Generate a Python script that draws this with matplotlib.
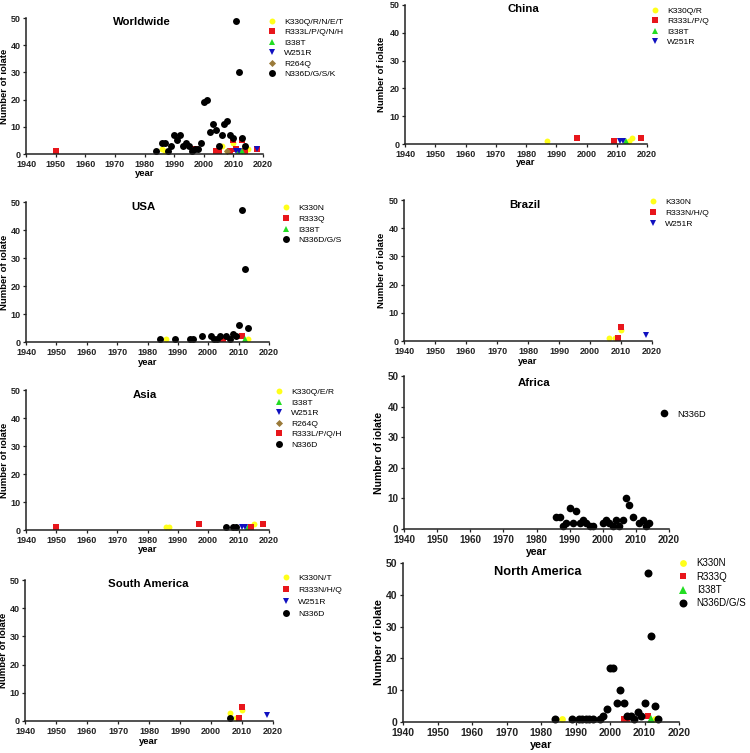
import matplotlib
matplotlib.use("Agg")
import matplotlib.pyplot as plt

plt.rcParams['font.family'] = ['Liberation Sans', 'DejaVu Sans']

# ---- data (year, number of isolates) ----
# Worldwide
ww_k330_x = [1986, 1987, 2006, 2008, 2010, 2013, 2014, 2015]
ww_k330_y = [2, 1, 3, 1, 4, 1, 1, 2]
ww_r333_x = [1950, 1997, 2004, 2005, 2009, 2010, 2011, 2013, 2014, 2018]
ww_r333_y = [1, 2, 1, 1, 1, 5, 2, 5, 1, 2]
ww_i338_x = [2012, 2013]
ww_i338_y = [1, 1]
ww_w251_x = [2011, 2012, 2018]
ww_w251_y = [1, 1, 2]
ww_r264_x = [2008]
ww_r264_y = [1]
ww_n336_x = [1984, 1986, 1987, 1988, 1989, 1990, 1991, 1992, 1993, 1994, 1995, 1996, 1997,
             1998, 1999, 2000, 2001, 2002, 2003, 2004, 2005, 2006, 2007, 2008, 2009, 2010,
             2011, 2012, 2013, 2014]
ww_n336_y = [1, 4, 4, 1, 3, 7, 5, 7, 3, 4, 3, 1, 2,
             2, 4, 19, 20, 8, 11, 9, 3, 7, 11, 12, 7, 6,
             49, 30, 6, 3]

# China
cn_k330_x = [1987, 2014, 2015]
cn_k330_y = [1, 1, 2]
cn_r333_x = [1997, 2009, 2018]
cn_r333_y = [2, 1, 2]
cn_i338_x = [2013]
cn_i338_y = [1]
cn_w251_x = [2011, 2012]
cn_w251_y = [1, 1]

# USA
us_k330_x = [1986, 2013]
us_k330_y = [1, 1]
us_r333_x = [2005, 2011]
us_r333_y = [1, 2]
us_i338_x = [2012]
us_i338_y = [1]
us_n336_x = [1984, 1989, 1994, 1995, 1998, 2001, 2002, 2003, 2004, 2006, 2007, 2008, 2009,
             2010, 2011, 2012, 2013]
us_n336_y = [1, 1, 1, 1, 2, 2, 1, 1, 2, 2, 1, 3, 2,
             6, 47, 26, 5]

# Brazil
br_k330_x = [2006, 2008, 2010]
br_k330_y = [1, 1, 4]
br_r333_x = [2009, 2010]
br_r333_y = [1, 5]
br_w251_x = [2018]
br_w251_y = [2]

# Asia
as_k330_x = [1986, 1987, 2015]
as_k330_y = [1, 1, 2]
as_i338_x = [2013]
as_i338_y = [1]
as_w251_x = [2011, 2012]
as_w251_y = [1, 1]
as_r264_x = [2008]
as_r264_y = [1]
as_r333_x = [1950, 1997, 2014, 2018]
as_r333_y = [1, 2, 1, 2]
as_n336_x = [2006, 2008, 2009]
as_n336_y = [1, 1, 1]

# Africa
af_n336_x = [1986, 1987, 1988, 1989, 1990, 1991, 1992, 1993, 1994, 1995, 1996, 1997,
             2000, 2001, 2002, 2003, 2004, 2005, 2006, 2007, 2008, 2009, 2011, 2012,
             2013, 2014]
af_n336_y = [4, 4, 1, 2, 7, 2, 6, 2, 3, 2, 1, 1,
             2, 3, 2, 1, 3, 1, 3, 10, 8, 4, 2, 3,
             1, 2]

# South America
sa_k330_x = [2006, 2008, 2010]
sa_k330_y = [3, 1, 4]
sa_r333_x = [2009, 2010]
sa_r333_y = [1, 5]
sa_w251_x = [2018]
sa_w251_y = [2]
sa_n336_x = [2006]
sa_n336_y = [1]

# North America
na_k330_x = [1986, 2013]
na_k330_y = [1, 1]
na_r333_x = [2004, 2005, 2011]
na_r333_y = [1, 1, 2]
na_i338_x = [2012]
na_i338_y = [1]
na_n336_x = [1984, 1989, 1991, 1992, 1993, 1994, 1995, 1997, 1998, 1999, 2000, 2001, 2002,
             2003, 2004, 2005, 2006, 2007, 2008, 2009, 2010, 2011, 2012, 2013, 2014]
na_n336_y = [1, 1, 1, 1, 1, 1, 1, 1, 2, 4, 17, 17, 6,
             10, 6, 2, 2, 1, 3, 2, 6, 47, 27, 5, 1]

# ---- marker styles per mutation ----
STY = {
    'k330': dict(marker='o', color='#ffff1a', size=0.85),
    'r333': dict(marker='s', color='#e8161b', size=0.82),
    'i338': dict(marker='^', color='#22dd22', size=0.88),
    'w251': dict(marker='v', color='#1010c0', size=0.88),
    'r264': dict(marker='D', color='#9a7a3a', size=0.72),
    'n336': dict(marker='o', color='black', size=1.0),
}

FW, FH = 750, 753
fig = plt.figure(figsize=(7.5, 7.53), dpi=100)

# box = axes in pixels (left, right, y of 50, y of 0); leg = (marker x, first row y, row step)
panels = [
    dict(title='Worldwide', box=(26, 263, 18, 154), tpos=(142, 22),
         series=[('k330', ww_k330_x, ww_k330_y, 'K330Q/R/N/E/T'),
                 ('r333', ww_r333_x, ww_r333_y, 'R333L/P/Q/N/H'),
                 ('i338', ww_i338_x, ww_i338_y, 'I338T'),
                 ('w251', ww_w251_x, ww_w251_y, 'W251R'),
                 ('r264', ww_r264_x, ww_r264_y, 'R264Q'),
                 ('n336', ww_n336_x, ww_n336_y, 'N336D/G/S/K')],
         leg=(272, 23, 12.3), scale=1.0, ylab=5, xlab=174),
    dict(title='China', box=(405, 647, 5, 144), tpos=(523, 9),
         series=[('k330', cn_k330_x, cn_k330_y, 'K330Q/R'),
                 ('r333', cn_r333_x, cn_r333_y, 'R333L/P/Q'),
                 ('i338', cn_i338_x, cn_i338_y, 'I338T'),
                 ('w251', cn_w251_x, cn_w251_y, 'W251R')],
         leg=(655, 12, 12.3), scale=1.0, ylab=382, xlab=163),
    dict(title='USA', box=(26, 269, 202, 342), tpos=(143, 207),
         series=[('k330', us_k330_x, us_k330_y, 'K330N'),
                 ('r333', us_r333_x, us_r333_y, 'R333Q'),
                 ('i338', us_i338_x, us_i338_y, 'I338T'),
                 ('n336', us_n336_x, us_n336_y, 'N336D/G/S')],
         leg=(286, 209, 12.7), scale=1.0, ylab=5, xlab=363),
    dict(title='Brazil', box=(404, 652, 200, 341), tpos=(525, 205),
         series=[('k330', br_k330_x, br_k330_y, 'K330N'),
                 ('r333', br_r333_x, br_r333_y, 'R333N/H/Q'),
                 ('w251', br_w251_x, br_w251_y, 'W251R')],
         leg=(653, 203, 12.7), scale=1.0, ylab=382, xlab=362),
    dict(title='Asia', box=(26, 269, 390, 530), tpos=(145, 395),
         series=[('k330', as_k330_x, as_k330_y, 'K330Q/E/R'),
                 ('i338', as_i338_x, as_i338_y, 'I338T'),
                 ('w251', as_w251_x, as_w251_y, 'W251R'),
                 ('r264', as_r264_x, as_r264_y, 'R264Q'),
                 ('r333', as_r333_x, as_r333_y, 'R333L/P/Q/H'),
                 ('n336', as_n336_x, as_n336_y, 'N336D')],
         leg=(279, 393, 12.5), scale=1.0, ylab=5, xlab=550),
    dict(title='Africa', box=(404, 669, 376, 529), tpos=(534, 383),
         series=[('n336', af_n336_x, af_n336_y, 'N336D')],
         leg=(664, 415, 12.5), scale=1.1, ylab=380, xlab=552),
    dict(title='South America', box=(25, 273, 580, 721), tpos=(148, 584),
         series=[('k330', sa_k330_x, sa_k330_y, 'K330N/T'),
                 ('r333', sa_r333_x, sa_r333_y, 'R333N/H/Q'),
                 ('w251', sa_w251_x, sa_w251_y, 'W251R'),
                 ('n336', sa_n336_x, sa_n336_y, 'N336D')],
         leg=(286, 579, 13.8), scale=1.0, ylab=4, xlab=742),
    dict(title='North America', box=(403, 679, 563, 722), tpos=(538, 572),
         series=[('k330', na_k330_x, na_k330_y, 'K330N'),
                 ('r333', na_r333_x, na_r333_y, 'R333Q'),
                 ('i338', na_i338_x, na_i338_y, 'I338T'),
                 ('n336', na_n336_x, na_n336_y, 'N336D/G/S')],
         leg=(683, 564, 14.6), scale=1.15, ylab=379, xlab=745),
]

for p in panels:
    l, r, y50, y0 = p['box']
    ax = fig.add_axes([l / FW, 1 - y0 / FH, (r - l) / FW, (y0 - y50) / FH])
    sc = p['scale']
    handles = []
    for key, xs, ys, lab in p['series']:
        st = STY[key]
        h, = ax.plot(xs, ys, linestyle='none', marker=st['marker'], color=st['color'],
                     markersize=5.0 * st['size'] * sc, markeredgewidth=0, clip_on=False,
                     label=lab)
        handles.append(h)

    ax.set_xlim(1940, 2020)
    ax.set_ylim(0, 50)
    ax.set_xticks(range(1940, 2021, 10))
    ax.set_yticks(range(0, 51, 10))
    for s in ['top', 'right']:
        ax.spines[s].set_visible(False)
    for s in ['left', 'bottom']:
        ax.spines[s].set_linewidth(1.1)
        ax.spines[s].set_color('#222222')
    ax.tick_params(direction='out', length=2.5, width=0.9, pad=1.5,
                   labelsize=6.5 * sc, colors='#222222')
    for t in ax.get_xticklabels() + ax.get_yticklabels():
        t.set_fontweight('bold')

    w_px, h_px = r - l, y0 - y50
    ax.set_ylabel('Number of iolate', fontsize=6.8 * sc, fontweight='bold')
    ax.yaxis.set_label_coords((p['ylab'] + 4.5 - l) / w_px, 0.5)
    ax.set_xlabel('year', fontsize=6.8 * sc, fontweight='bold')
    ax.xaxis.set_label_coords(0.5, -(p['xlab'] - 5 - y0) / h_px)

    fig.text(p['tpos'][0] / FW, 1 - p['tpos'][1] / FH, p['title'], ha='center', va='center',
             fontsize=8.2 * (1.12 if p['title'] == 'North America' else 1.0), fontweight='bold')

    mx, my, step = p['leg']
    fs = 6.1 * sc
    fs_px = fs * 100 / 72
    ax.legend(handles=handles, loc='upper left', frameon=False, fontsize=fs,
              bbox_to_anchor=((mx - 0.5 * fs_px) / FW, 1 - (my - 0.58 * fs_px) / FH),
              bbox_transform=fig.transFigure, borderpad=0, borderaxespad=0,
              handlelength=1.0, handletextpad=0.9,
              labelspacing=(step - 1.16 * fs_px) / fs_px)

fig.savefig('out.png', dpi=100)
